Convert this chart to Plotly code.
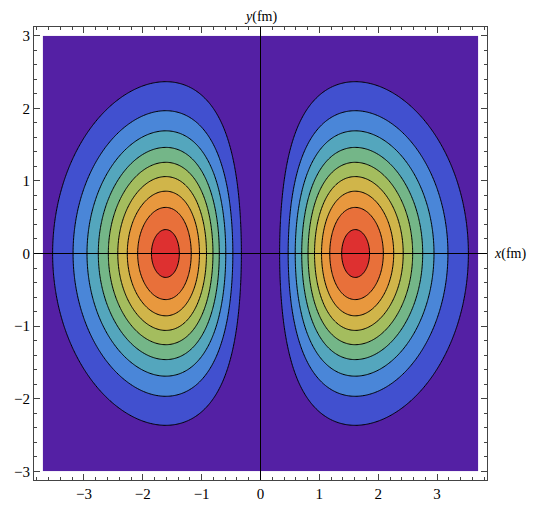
import numpy as np
import plotly.graph_objects as go

# Field parameters: two lobes on the x axis
peak_height = 0.94      # relative peak value
lobe_x = 1.61           # |x| of lobe maxima (fm)
width_y2 = 2.5          # Gaussian width parameter along y (fm^2)
x_limits = [-3.7, 3.7]
y_limits = [-3.0, 3.0]
levels = [0.1, 0.2, 0.3, 0.4, 0.5, 0.6, 0.7, 0.8, 0.9]
band_colors = ["#5420a4", "#4150cf", "#4a86d8", "#54a6bd", "#74b688",
               "#a4bd5e", "#d0b54a", "#e8983e", "#e8703a", "#de3030"]
x_ticks = [-3, -2, -1, 0, 1, 2, 3]
y_ticks = [-3, -2, -1, 0, 1, 2, 3]

xs = np.linspace(x_limits[0], x_limits[1], 371)
ys = np.linspace(y_limits[0], y_limits[1], 301)
X, Y = np.meshgrid(xs, ys)
a = lobe_x ** 2
U = X ** 2 / a
Z = peak_height * U * np.exp(1 - U) * np.exp(-Y ** 2 / width_y2)

n = len(band_colors)
colorscale = [[k / (n - 1), c] for k, c in enumerate(band_colors)]

fig = go.Figure()
fig.add_trace(go.Contour(
    x=xs, y=ys, z=Z,
    contours=dict(start=levels[0], end=levels[-1], size=levels[1] - levels[0],
                  coloring="fill"),
    colorscale=colorscale,
    line=dict(color="black", width=1),
    showscale=False,
    hoverinfo="skip",
))

pad_x = 0.02 * (x_limits[1] - x_limits[0])
pad_y = 0.02 * (y_limits[1] - y_limits[0])
font = dict(family="Liberation Serif", size=15, color="black")
label_font = dict(family="Liberation Serif", size=14, color="black")

axis_common = dict(
    showgrid=False, zeroline=False, showline=True, linecolor="#444444",
    linewidth=1, mirror="allticks", ticks="inside", ticklen=6,
    tickcolor="#444444", tickfont=font, automargin=False,
    minor=dict(dtick=0.2, ticks="inside", ticklen=3, tickcolor="#444444"),
)
fig.update_xaxes(range=[x_limits[0] - pad_x, x_limits[1] + pad_x],
                 tickvals=x_ticks, **axis_common)
fig.update_yaxes(range=[y_limits[0] - pad_y, y_limits[1] + pad_y],
                 tickvals=y_ticks, **axis_common)

# coordinate axes through the origin
fig.add_shape(type="line", xref="x", yref="paper", x0=0, x1=0, y0=0, y1=1,
              line=dict(color="black", width=1), layer="above")
fig.add_shape(type="line", xref="paper", yref="y", x0=0, x1=1, y0=0, y1=0,
              line=dict(color="black", width=1), layer="above")

fig.add_annotation(text="<i>y</i>(fm)", x=0, y=1, xref="x", yref="paper",
                   yshift=0, yanchor="bottom", showarrow=False, font=label_font)
fig.add_annotation(text="<i>x</i>(fm)", x=1, y=0, xref="paper", yref="y",
                   xanchor="left", xshift=5, showarrow=False, font=label_font)

# the page body adds an 8 px offset, so the figure is sized to fit the window
fig.update_layout(
    width=528, height=500,
    margin=dict(l=26, r=49, t=19, b=28),
    paper_bgcolor="white", plot_bgcolor="white",
    showlegend=False,
)

fig.write_html("out.html")
